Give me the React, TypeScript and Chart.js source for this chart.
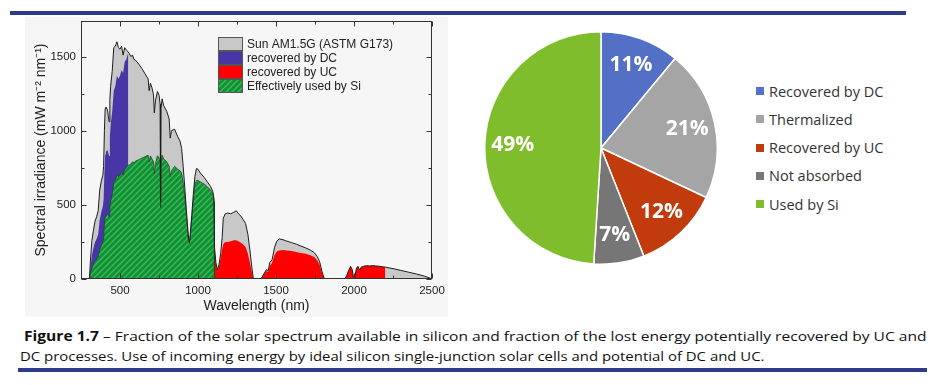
import React, { useEffect, useLayoutEffect, useRef } from 'react';
import { Chart, registerables } from 'chart.js';
Chart.register(...registerables);

// ---- Spectrum data (nm, mW m-2 nm-1) ----
const sunWl = [280, 300, 305, 310, 320, 330, 340, 350, 360, 370, 380, 390, 395, 400, 405, 410, 420, 425, 430, 435, 440, 450, 460, 470, 480, 490, 500, 510, 520, 530, 540, 550, 560, 570, 580, 590, 600, 620, 640, 660, 680, 687, 695, 705, 715, 720, 727, 740, 750, 757, 760, 763, 770, 780, 800, 815, 822, 830, 850, 870, 885, 895, 905, 915, 925, 935, 940, 945, 950, 960, 970, 980, 990, 1000, 1015, 1040, 1060, 1080, 1095, 1102, 1106, 1115, 1125, 1135, 1145, 1155, 1162, 1175, 1190, 1210, 1230, 1245, 1260, 1275, 1290, 1305, 1320, 1332, 1345, 1355, 1395, 1410, 1425, 1440, 1450, 1460, 1475, 1490, 1505, 1520, 1545, 1570, 1600, 1630, 1660, 1690, 1720, 1745, 1765, 1780, 1795, 1808, 1820, 1940, 1952, 1965, 1978, 1988, 1996, 2006, 2016, 2026, 2036, 2046, 2060, 2080, 2100, 2120, 2140, 2160, 2180, 2200, 2250, 2300, 2350, 2400, 2450, 2490, 2500];
const sunIrr = [0, 0, 15, 120, 260, 330, 390, 420, 460, 600, 660, 700, 760, 1000, 1150, 1160, 1140, 1100, 1060, 1210, 1300, 1400, 1560, 1570, 1600, 1560, 1550, 1570, 1510, 1560, 1545, 1535, 1520, 1500, 1510, 1480, 1475, 1450, 1420, 1385, 1350, 1270, 1320, 1290, 1240, 1120, 1200, 1265, 1240, 1180, 520, 1150, 1215, 1170, 1130, 1080, 950, 1000, 1010, 960, 930, 880, 760, 620, 470, 330, 270, 250, 300, 430, 570, 690, 745, 740, 715, 685, 655, 625, 590, 540, 210, 110, 60, 100, 170, 280, 410, 440, 445, 440, 450, 460, 440, 425, 400, 375, 300, 200, 80, 0, 0, 10, 40, 65, 55, 110, 130, 210, 255, 270, 265, 255, 245, 235, 222, 210, 195, 178, 150, 115, 50, 5, 0, 0, 20, 55, 85, 65, 15, 15, 75, 85, 60, 80, 85, 90, 88, 90, 88, 86, 83, 80, 70, 58, 46, 34, 20, 5, 0];

const dcWl = [300, 305, 310, 320, 330, 340, 350, 360, 370, 380, 390, 395, 400, 405, 410, 420, 425, 430, 435, 440, 450, 460, 470, 480, 490, 500, 510, 520, 530, 540, 550, 553, 553.5];
const dcIrr = [0, 10, 70, 160, 210, 250, 270, 300, 400, 450, 490, 540, 720, 840, 860, 870, 850, 830, 960, 1040, 1130, 1270, 1300, 1370, 1350, 1370, 1410, 1390, 1465, 1480, 1515, 1520, 0];

const ucWl = [1104, 1106, 1115, 1125, 1135, 1145, 1155, 1162, 1175, 1190, 1210, 1230, 1245, 1260, 1275, 1290, 1305, 1320, 1332, 1345, 1355, 1395, 1410, 1425, 1440, 1450, 1460, 1475, 1490, 1505, 1520, 1545, 1570, 1600, 1630, 1660, 1690, 1720, 1745, 1765, 1780, 1795, 1808, 1820, 1940, 1952, 1965, 1978, 1988, 1996, 2006, 2016, 2026, 2036, 2046, 2060, 2080, 2100, 2120, 2140, 2160, 2180, 2200, 2200.5];
const ucIrr = [0, 205, 105, 55, 85, 140, 200, 235, 250, 250, 255, 262, 262, 255, 245, 232, 215, 170, 115, 45, 0, 0, 8, 35, 55, 48, 90, 110, 160, 185, 192, 195, 193, 188, 182, 176, 170, 160, 148, 125, 95, 40, 4, 0, 0, 20, 55, 85, 65, 15, 15, 75, 85, 60, 80, 85, 90, 88, 90, 88, 86, 83, 80, 0];

const siWl = [300, 305, 310, 320, 330, 340, 350, 360, 370, 380, 390, 395, 400, 405, 410, 420, 425, 430, 435, 440, 450, 460, 470, 480, 490, 500, 510, 520, 530, 540, 550, 560, 570, 580, 590, 600, 620, 640, 660, 680, 687, 695, 705, 715, 720, 727, 740, 750, 757, 760, 763, 770, 780, 800, 815, 822, 830, 850, 870, 885, 895, 905, 915, 925, 935, 940, 945, 950, 960, 970, 980, 990, 1000, 1015, 1040, 1060, 1080, 1095, 1102, 1105, 1105.5];
const siIrr = [0, 5, 35, 75, 100, 120, 135, 150, 200, 225, 250, 275, 360, 420, 430, 435, 430, 420, 480, 520, 570, 650, 665, 700, 690, 700, 720, 700, 740, 750, 765, 770, 775, 790, 785, 795, 805, 815, 825, 835, 790, 830, 810, 790, 710, 780, 830, 820, 780, 480, 800, 835, 810, 790, 760, 690, 730, 760, 740, 730, 715, 650, 560, 440, 310, 255, 240, 280, 400, 530, 640, 665, 665, 655, 640, 622, 600, 575, 535, 520, 0];

const spectrumLegend = ['Sun AM1.5G (ASTM G173)', 'recovered by DC', 'recovered by UC', 'Effectively used by Si'];
const xTickValues = [500, 1000, 1500, 2000, 2500];
const xMinorValues = [250, 750, 1250, 1750, 2250];
const yTickValues = [0, 500, 1000, 1500];
const yMinorValues = [250, 750, 1250];

// ---- Pie data ----
const pieLabels = ['Recovered by DC', 'Thermalized', 'Recovered by UC', 'Not absorbed', 'Used by Si'];
const pieValues = [11, 21, 12, 7, 49];
const pieColors = ['#5470c6', '#a5a5a5', '#c23b0c', '#767676', '#80bd2c'];

const captionBold = 'Figure 1.7';
const captionLine1 = ' \u2013 Fraction of the solar spectrum available in silicon and fraction of the lost energy potentially recovered by UC and';
const captionLine2 = 'DC processes. Use of incoming energy by ideal silicon single-junction solar cells and potential of DC and UC.';

const SANS = '"Liberation Sans", Arial, sans-serif';
const UI = '"Open Sans", "Noto Sans", sans-serif';
const NAVY = '#2d3b8a';

const pts = (xs: number[], ys: number[]) => xs.map((x, i) => ({ x, y: ys[i] }));

function makeHatch(): CanvasPattern | string {
  const c = document.createElement('canvas');
  c.width = 6; c.height = 6;
  const g = c.getContext('2d');
  if (!g) return '#128f3a';
  g.fillStyle = '#11903a';
  g.fillRect(0, 0, 6, 6);
  g.strokeStyle = '#3fbb52';
  g.lineWidth = 1.3;
  g.beginPath();
  g.moveTo(0, 6); g.lineTo(6, 0);
  g.moveTo(-3, 3); g.lineTo(3, -3);
  g.moveTo(3, 9); g.lineTo(9, 3);
  g.stroke();
  return g.createPattern(c, 'repeat') || '#128f3a';
}

const SpectrumChart: React.FC = () => {
  const ref = useRef<HTMLCanvasElement>(null);
  useEffect(() => {
    if (!ref.current) return;
    const hatch = makeHatch();
    const fills = ['#c8c8c8', '#4936a6', '#ff0000', hatch];

    const framePlugin = {
      id: 'frameTicks',
      afterDatasetsDraw(chart: any) {
        const { ctx, chartArea: a, scales } = chart;
        const x = scales.x, y = scales.y;
        ctx.save();
        ctx.strokeStyle = '#333';
        ctx.lineWidth = 1;
        const L = Math.round(a.left) + 0.5, R = Math.round(a.right) - 0.5;
        const T = Math.round(a.top) + 0.5, B = Math.round(a.bottom) - 0.5;
        ctx.strokeRect(L, T, R - L, B - T);
        ctx.beginPath();
        const xt = (v: number, len: number) => {
          const px = Math.round(x.getPixelForValue(v)) + 0.5;
          ctx.moveTo(px, B); ctx.lineTo(px, B - len);
          ctx.moveTo(px, T); ctx.lineTo(px, T + len);
        };
        const yt = (v: number, len: number) => {
          const py = Math.round(y.getPixelForValue(v)) + 0.5;
          ctx.moveTo(L, py); ctx.lineTo(L + len, py);
          ctx.moveTo(R, py); ctx.lineTo(R - len, py);
        };
        xTickValues.forEach(v => xt(v, 5));
        xMinorValues.forEach(v => xt(v, 3));
        yTickValues.forEach(v => yt(v, 5));
        yMinorValues.forEach(v => yt(v, 3));
        ctx.stroke();

        // legend
        const bx = a.left + 137, by = a.top + 16, bw = 25, bh = 14;
        ctx.font = '12px ' + SANS;
        ctx.textBaseline = 'middle';
        ctx.textAlign = 'left';
        spectrumLegend.forEach((t, i) => {
          const top = by + i * bh;
          ctx.fillStyle = fills[i] as any;
          ctx.fillRect(bx, top, bw, bh);
          ctx.strokeStyle = '#555';
          ctx.strokeRect(bx + 0.5, top + 0.5, bw - 1, bh - 1);
          ctx.fillStyle = '#222';
          ctx.fillText(t, bx + bw + 4, top + bh / 2 + 0.5);
        });
        ctx.restore();
      },
    };

    const chart = new Chart(ref.current, {
      type: 'line',
      data: {
        datasets: [
          { label: 'outline', data: pts(sunWl, sunIrr), borderColor: '#1c1c1c', borderWidth: 1, fill: false, order: 0 },
          { label: spectrumLegend[3], data: pts(siWl, siIrr), backgroundColor: hatch as any, borderColor: '#1f4a2a', borderWidth: 0.8, fill: 'origin', order: 1 },
          { label: spectrumLegend[2], data: pts(ucWl, ucIrr), backgroundColor: '#ff0000', borderColor: 'rgba(0,0,0,0)', borderWidth: 0, fill: 'origin', order: 2 },
          { label: spectrumLegend[1], data: pts(dcWl, dcIrr), backgroundColor: '#4936a6', borderColor: 'rgba(0,0,0,0)', borderWidth: 0, fill: 'origin', order: 3 },
          { label: spectrumLegend[0], data: pts(sunWl, sunIrr), backgroundColor: '#c8c8c8', borderColor: 'rgba(0,0,0,0)', borderWidth: 0, fill: 'origin', order: 4 },
        ] as any,
      },
      options: {
        animation: false,
        responsive: false,
        maintainAspectRatio: false,
        layout: { padding: { left: 0, right: 28, top: 21, bottom: 0 } },
        elements: { point: { radius: 0 }, line: { tension: 0 } },
        plugins: { legend: { display: false }, tooltip: { enabled: false } },
        scales: {
          x: {
            type: 'linear', min: 250, max: 2500,
            grid: { display: false, drawTicks: false },
            border: { display: false },
            afterBuildTicks: (s: any) => { s.ticks = xTickValues.map(v => ({ value: v })); },
            afterFit: (s: any) => { s.height = 41; },
            ticks: { font: { family: SANS, size: 11.5 }, color: '#222', padding: 5, maxRotation: 0, autoSkip: false, callback: (v: any) => String(v) },
            title: { display: true, text: 'Wavelength (nm)', font: { family: SANS, size: 14 }, color: '#222', padding: { top: 0, bottom: 5 } },
          },
          y: {
            type: 'linear', min: 0, max: 1740,
            grid: { display: false, drawTicks: false },
            border: { display: false },
            afterBuildTicks: (s: any) => { s.ticks = yTickValues.map(v => ({ value: v })); },
            afterFit: (s: any) => { s.width = 81; },
            ticks: { font: { family: SANS, size: 11.5 }, color: '#222', padding: 5, autoSkip: false, callback: (v: any) => String(v) },
            title: { display: true, text: 'Spectral irradiance (mW m\u207B\u00B2 nm\u207B\u00B9)', font: { family: SANS, size: 14 }, color: '#222', padding: { top: 33, bottom: 0 } },
          },
        },
      } as any,
      plugins: [framePlugin],
    });
    return () => chart.destroy();
  }, []);
  return <canvas ref={ref} width={460} height={320} style={{ position: 'absolute', left: 0, top: 0, width: 460, height: 320 }} />;
};

const PieChart: React.FC = () => {
  const ref = useRef<HTMLCanvasElement>(null);
  useEffect(() => {
    if (!ref.current) return;
    const labelPlugin = {
      id: 'pieLabels',
      afterDatasetsDraw(chart: any) {
        const { ctx } = chart;
        const meta = chart.getDatasetMeta(0);
        ctx.save();
        ctx.font = 'bold 21px ' + UI;
        ctx.fillStyle = '#ffffff';
        ctx.textAlign = 'center';
        ctx.textBaseline = 'middle';
        meta.data.forEach((arc: any, i: number) => {
          const p = arc.getProps(['x', 'y', 'startAngle', 'endAngle', 'outerRadius'], true);
          const mid = (p.startAngle + p.endAngle) / 2;
          const r = p.outerRadius * 0.76;
          ctx.fillText(pieValues[i] + '%', p.x + Math.cos(mid) * r, p.y + Math.sin(mid) * r);
        });
        ctx.restore();
      },
    };
    const chart = new Chart(ref.current, {
      type: 'pie',
      data: {
        labels: pieLabels,
        datasets: [{ data: pieValues, backgroundColor: pieColors, borderColor: '#ffffff', borderWidth: 1.5 }],
      },
      options: {
        animation: false,
        responsive: false,
        maintainAspectRatio: false,
        layout: { padding: 0 },
        plugins: { legend: { display: false }, tooltip: { enabled: false } },
      } as any,
      plugins: [labelPlugin],
    });
    return () => chart.destroy();
  }, []);
  return <canvas ref={ref} width={234} height={234} style={{ position: 'absolute', left: 484, top: 31, width: 234, height: 234 }} />;
};

const FitLine: React.FC<{ left: number; top: number; target: number; children: React.ReactNode }> = ({ left, top, target, children }) => {
  const ref = useRef<HTMLSpanElement>(null);
  useLayoutEffect(() => {
    const el = ref.current;
    if (!el) return;
    el.style.transform = 'none';
    const w = el.offsetWidth;
    if (w > 0) el.style.transform = `scaleX(${target / w})`;
  }, [target]);
  return (
    <span ref={ref} style={{ position: 'absolute', left, top, whiteSpace: 'nowrap', transformOrigin: '0 50%', display: 'inline-block', fontFamily: UI, fontSize: 13.5, lineHeight: '18px', color: '#111' }}>
      {children}
    </span>
  );
};

export default function App() {
  return (
    <div style={{ position: 'fixed', left: 0, top: 0, width: 945, height: 385, background: '#ffffff', overflow: 'hidden' }}>
      <div style={{ position: 'absolute', left: 10, top: 11, width: 896, height: 4, background: NAVY }} />
      <div style={{ position: 'absolute', left: 25, top: 17, width: 423, height: 300, background: '#f6f6f6' }} />
      <SpectrumChart />
      <PieChart />
      {pieLabels.map((l, i) => (
        <div key={l} style={{ position: 'absolute', left: 756, top: 82 + i * 28.3, height: 18, display: 'flex', alignItems: 'center', whiteSpace: 'nowrap' }}>
          <span style={{ display: 'inline-block', width: 8, height: 8, background: pieColors[i], marginRight: 5 }} />
          <span style={{ fontFamily: UI, fontSize: 14.5, color: '#333' }}>{l}</span>
        </div>
      ))}
      <FitLine left={24} top={327} target={903}>
        <b>{captionBold}</b>{captionLine1}
      </FitLine>
      <FitLine left={20} top={347} target={745}>
        {captionLine2}
      </FitLine>
      <div style={{ position: 'absolute', left: 18, top: 368, width: 909, height: 4, background: NAVY }} />
    </div>
  );
}
